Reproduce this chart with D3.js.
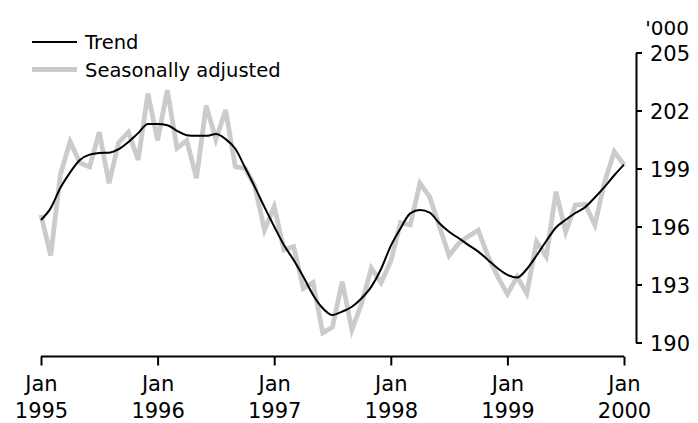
<!DOCTYPE html>
<html>
<head>
<meta charset="utf-8">
<script src="https://cdn.jsdelivr.net/npm/d3@7"></script>
<style>
  html, body { margin: 0; padding: 0; background: #fff; }
  svg { display: block; }
  text { font-family: "DejaVu Sans", sans-serif; fill: #000; }
</style>
</head>
<body>
<svg id="chart" width="698" height="423"></svg>
<script>
// Month index 0 = Jan 1995 ... 60 = Jan 2000
const trend = [
  196.34, 196.95, 198.0, 198.8, 199.44, 199.72, 199.8, 199.82, 200.0, 200.37, 200.83, 201.3,
  201.3, 201.24, 200.95, 200.72, 200.69, 200.69, 200.78, 200.52, 200.02, 199.05, 198.05, 197.0,
  196.0, 195.04, 194.27, 193.4, 192.46, 191.77, 191.42, 191.6, 191.85, 192.29, 192.89, 193.8,
  195.0, 195.9, 196.68, 196.85, 196.72, 196.17, 195.73, 195.39, 195.04, 194.7, 194.27, 193.84,
  193.5, 193.36, 193.8, 194.5, 195.25, 195.95, 196.35, 196.7, 197.0, 197.5, 198.05, 198.65,
  199.2
];
const seasonallyAdjusted = [
  196.6, 194.5, 198.7, 200.39, 199.3, 199.08, 200.88, 198.24, 200.35, 200.88, 199.44, 202.88,
  200.46, 203.05, 200.04, 200.45, 198.5, 202.25, 200.5, 202.03, 199.1, 199.01, 198.1, 195.82,
  197.03, 194.79, 194.96, 192.8, 193.1, 190.5, 190.8, 193.15, 190.65, 192.03, 193.84, 193.1,
  194.2, 196.2, 196.08, 198.24, 197.54, 196.0, 194.5, 195.13, 195.5, 195.8, 194.47, 193.4,
  192.5, 193.4, 192.54, 195.21, 194.44, 197.8, 195.73, 197.11, 197.15, 196.08, 198.3, 199.87,
  199.2
];
const xTickMonths = [0, 12, 24, 36, 48, 60];
const xTickLabels = [["Jan", "1995"], ["Jan", "1996"], ["Jan", "1997"], ["Jan", "1998"], ["Jan", "1999"], ["Jan", "2000"]];
const yTicks = [190, 193, 196, 199, 202, 205];
const seriesNames = ["Trend", "Seasonally adjusted"];
const unitLabel = "'000";

const svg = d3.select("#chart");
const x = d3.scaleLinear().domain([0, 60]).range([41, 624]);
const y = d3.scaleLinear().domain([190, 205]).range([342.5, 52.5]);

const line = d3.line().x((d, i) => x(i)).y(d => y(d));

// Seasonally adjusted (grey, thick)
svg.append("path")
  .datum(seasonallyAdjusted)
  .attr("d", line)
  .attr("fill", "none")
  .attr("stroke", "#cbcbcb")
  .attr("stroke-width", 4.8)
  .attr("stroke-linejoin", "miter");

// Trend (black)
svg.append("path")
  .datum(trend)
  .attr("d", d3.line().x((d, i) => x(i)).y(d => y(d)).curve(d3.curveMonotoneX))
  .attr("fill", "none")
  .attr("stroke", "#000")
  .attr("stroke-width", 2);

// X axis
const xAxis = d3.axisBottom(x)
  .tickValues(xTickMonths)
  .tickSize(9)
  .tickSizeOuter(0)
  .tickFormat("");
const gx = svg.append("g")
  .attr("transform", "translate(0,356.5)")
  .call(xAxis);
gx.select(".domain").attr("stroke", "#000").attr("stroke-width", 2).attr("d", `M${x(0)},0H${x(60)}`);
gx.selectAll(".tick line").attr("stroke", "#000").attr("stroke-width", 2);
gx.selectAll(".tick").each(function(d, i) {
  const t = d3.select(this);
  t.append("text").attr("y", 34.5).attr("text-anchor", "middle")
    .style("font-size", "21px").text(xTickLabels[i][0]);
  t.append("text").attr("y", 61.5).attr("text-anchor", "middle")
    .style("font-size", "21px").text(xTickLabels[i][1]);
});

// Y axis (right side)
const yAxis = d3.axisRight(y)
  .tickValues(yTicks)
  .tickSize(6)
  .tickSizeOuter(0)
  .tickPadding(8)
  .tickFormat(d3.format("d"));
const gy = svg.append("g")
  .attr("transform", "translate(636,0)")
  .call(yAxis);
gy.select(".domain").attr("stroke", "#000").attr("stroke-width", 2);
gy.selectAll(".tick line").attr("stroke", "#000").attr("stroke-width", 2);
gy.selectAll(".tick text")
  .style("font-size", "21px")
  .attr("fill", "#000")
  .attr("dy", "0.36em");

svg.append("text")
  .attr("x", 689).attr("y", 35)
  .attr("text-anchor", "end")
  .style("font-size", "20px")
  .text(unitLabel);

// Legend
const legend = svg.append("g");
const legendStyles = [
  { stroke: "#000", width: 2 },
  { stroke: "#cbcbcb", width: 4.8 }
];
seriesNames.forEach((name, i) => {
  const ly = 42 + i * 27.5;
  legend.append("line")
    .attr("x1", 32).attr("x2", 77).attr("y1", ly).attr("y2", ly)
    .attr("stroke", legendStyles[i].stroke)
    .attr("stroke-width", legendStyles[i].width);
  legend.append("text")
    .attr("x", 85).attr("y", ly + 7)
    .style("font-size", "19.5px")
    .text(name);
});
</script>
</body>
</html>
